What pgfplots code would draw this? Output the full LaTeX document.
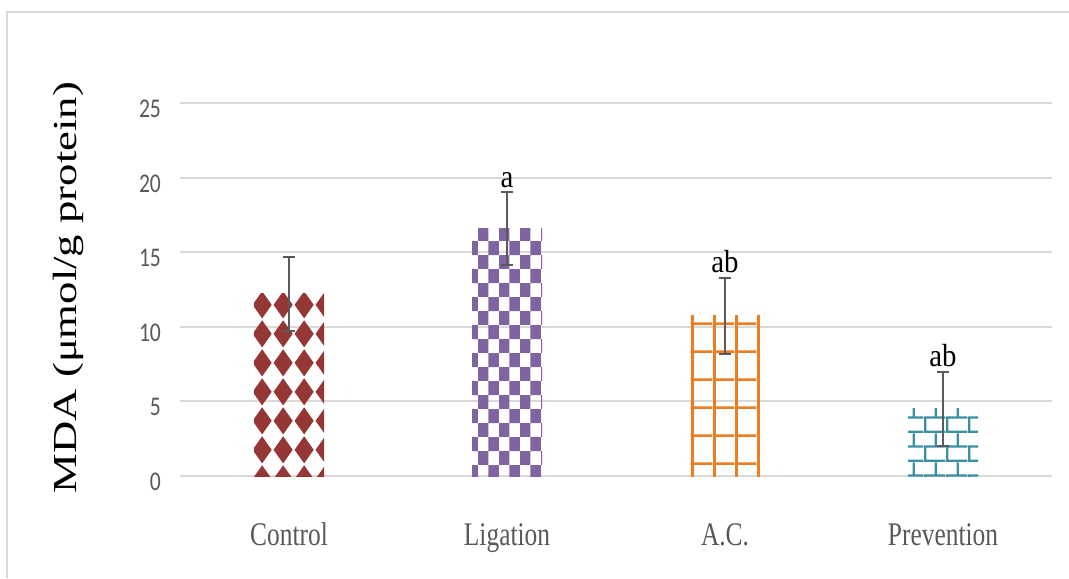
\documentclass[border=0pt]{standalone}
\usepackage{pgfplots}
\pgfplotsset{compat=1.18}
\usetikzlibrary{patterns}
\usepackage{fontspec}
\setmainfont{Liberation Serif}
\newfontfamily\xlabfont[FakeStretch=0.77]{Liberation Serif}
\newfontfamily\ylabfont[FakeStretch=1.33]{Liberation Serif}
\newfontfamily\letfont[FakeStretch=0.9]{Liberation Serif}
\newfontfamily\tickfont[FakeStretch=0.8]{Carlito}

\definecolor{gridgray}{HTML}{D9D9D9}
\definecolor{labgray}{HTML}{595959}
\definecolor{errgray}{HTML}{5A5A5A}
\definecolor{cred}{HTML}{953735}
\definecolor{cpurple}{HTML}{8064A2}
\definecolor{corange}{HTML}{EE7D22}
\definecolor{cteal}{HTML}{3A8FA3}

% diamonds (argyle)
\pgfdeclarepatternformonly{mdiam}{\pgfpoint{0pt}{0pt}}{\pgfpoint{10.5pt}{14.3pt}}{\pgfpoint{10.5pt}{14.3pt}}{%
  \pgfpathmoveto{\pgfpoint{5.25pt}{0.3pt}}%
  \pgfpathlineto{\pgfpoint{10.2pt}{7.15pt}}%
  \pgfpathlineto{\pgfpoint{5.25pt}{14.0pt}}%
  \pgfpathlineto{\pgfpoint{0.3pt}{7.15pt}}%
  \pgfpathclose\pgfusepath{fill}}
% checkerboard
\pgfdeclarepatternformonly{mcheck}{\pgfpoint{0pt}{0pt}}{\pgfpoint{10.4pt}{14.2pt}}{\pgfpoint{10.4pt}{14.2pt}}{%
  \pgfpathrectangle{\pgfpoint{0pt}{0pt}}{\pgfpoint{5.2pt}{7.1pt}}%
  \pgfpathrectangle{\pgfpoint{5.2pt}{7.1pt}}{\pgfpoint{5.2pt}{7.1pt}}%
  \pgfusepath{fill}}
% grid
\pgfdeclarepatternformonly{mgrid}{\pgfpoint{0pt}{0pt}}{\pgfpoint{10.8pt}{14.2pt}}{\pgfpoint{10.8pt}{14.2pt}}{%
  \pgfpathrectangle{\pgfpoint{0pt}{0pt}}{\pgfpoint{1.4pt}{14.2pt}}%
  \pgfpathrectangle{\pgfpoint{0pt}{0pt}}{\pgfpoint{10.8pt}{1.4pt}}%
  \pgfusepath{fill}}
% bricks
\pgfdeclarepatternformonly{mbrick}{\pgfpoint{0pt}{0pt}}{\pgfpoint{11pt}{14.6pt}}{\pgfpoint{11pt}{14.6pt}}{%
  \pgfpathrectangle{\pgfpoint{0pt}{0pt}}{\pgfpoint{11pt}{1.2pt}}%
  \pgfpathrectangle{\pgfpoint{0pt}{7.3pt}}{\pgfpoint{11pt}{1.2pt}}%
  \pgfpathrectangle{\pgfpoint{0pt}{0pt}}{\pgfpoint{1.2pt}{7.3pt}}%
  \pgfpathrectangle{\pgfpoint{5.5pt}{7.3pt}}{\pgfpoint{1.2pt}{7.3pt}}%
  \pgfusepath{fill}}

\begin{document}
\begin{tikzpicture}
\begin{axis}[
  scale only axis,
  width=436pt, height=186.5pt,
  xmin=-0.5, xmax=3.5, ymin=0, ymax=25,
  xtick={0,1,2,3},
  xticklabels={Control,Ligation,A.C.,Prevention},
  ytick={0,5,10,15,20,25},
  /pgf/number format/assume math mode=true,
  major tick length=0pt,
  axis line style={draw=none},
  ymajorgrids,
  major grid style={gridgray, line width=1pt},
  clip=false,
  ybar, bar width=35pt, bar shift=0pt,
  yticklabel style={font=\tickfont\fontsize{13.5}{15}\selectfont, text=labgray, xshift=-6pt, yshift=-3pt},
  xticklabel style={font=\xlabfont\fontsize{16.5}{18}\selectfont, text=labgray, text height=11pt, text depth=3.5pt, yshift=-20pt},
  ylabel={\ylabfont\fontsize{16.8}{18}\selectfont MDA (μmol/g protein)},
  every axis y label/.style={at={(axis description cs:-0.1284,0.505)}, anchor=center, rotate=90},
  error bars/y dir=both,
  error bars/y explicit,
  error bars/error bar style={line width=1pt, errgray},
  error bars/error mark options={rotate=90, mark size=3pt, line width=1pt, errgray},
]
\addplot[draw=none, pattern=mdiam, pattern color=cred] coordinates {(0,12.2) +- (0,2.5)};
\addplot[draw=none, pattern=mcheck, pattern color=cpurple] coordinates {(1,16.6) +- (0,2.45)};
\addplot[draw=none, pattern=mgrid, pattern color=corange] coordinates {(2,10.75) +- (0,2.55)};
\addplot[draw=none, pattern=mbrick, pattern color=cteal] coordinates {(3,4.5) +- (0,2.5)};
\node[anchor=south, inner sep=2pt, font=\letfont\fontsize{16}{18}\selectfont] at (axis cs:1,19.05) {a};
\node[anchor=south, inner sep=2pt, font=\letfont\fontsize{16}{18}\selectfont] at (axis cs:2,13.3) {ab};
\node[anchor=south, inner sep=2pt, font=\letfont\fontsize{16}{18}\selectfont] at (axis cs:3,7.05) {ab};
\end{axis}
\draw[gridgray, line width=1pt] (-86.25pt,-51pt) -- (-86.25pt,231.75pt) -- (444.5pt,231.75pt);
\pgfresetboundingbox
\path[use as bounding box] (-90pt,-51pt) rectangle (444.5pt,238pt);
\end{tikzpicture}
\end{document}
